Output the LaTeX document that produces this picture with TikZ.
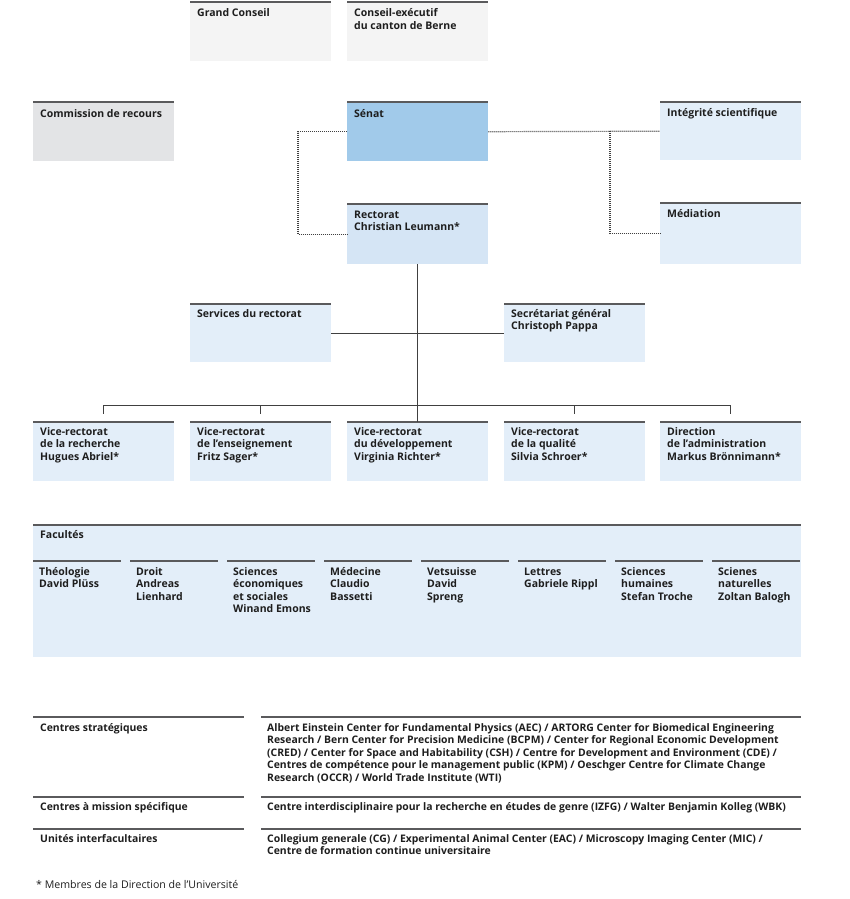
\documentclass[tikz,border=0pt]{standalone}
\usepackage{fontspec}
\setmainfont{Open Sans}
\usetikzlibrary{calc}
\definecolor{txtc}{HTML}{1E1E1E}
\definecolor{toplc}{HTML}{5A5A5C}
\definecolor{connc}{HTML}{404040}
\definecolor{grayA}{HTML}{F4F4F4}
\definecolor{grayB}{HTML}{E3E4E6}
\definecolor{senatc}{HTML}{A1CAEA}
\definecolor{rectc}{HTML}{D5E5F5}
\definecolor{lb}{HTML}{E3EEF9}
\newcommand\ml[1]{\begin{tabular}[t]{@{}l@{}}#1\end{tabular}}
\tikzset{
  box/.style={rectangle, draw=none, inner sep=0, anchor=north west,
    minimum width=141pt, minimum height=59pt, fill=#1},
  box/.default=lb,
  topl/.style={draw=toplc, line width=1.6pt},
  conn/.style={draw=connc, line width=0.9pt},
  dotl/.style={draw=connc, line width=1.2pt, dash pattern=on 1pt off 1pt},
  txt/.style={anchor=base west, inner sep=0, text=txtc,
    font=\fontsize{10.5}{12.5}\selectfont\bfseries},
  smalltxt/.style={anchor=base west, inner sep=0, text=txtc,
    font=\fontsize{10.4}{12.5}\selectfont\bfseries},
  foot/.style={anchor=base west, inner sep=0, text=txtc,
    font=\fontsize{10.6}{12}\selectfont}
}
\begin{document}
\begin{tikzpicture}[x=1pt,y=-1pt]
\useasboundingbox[fill=white] (0,0) rectangle (850,899);
% boxes
\node[box=grayA] (gc) at (190,2) {};
\node[box=grayA] (ce) at (347,2) {};
\node[box=grayB] (cr) at (33,102) {};
\node[box=senatc] (senat) at (347,102) {};
\node[box, minimum height=58pt] (integ) at (660,102) {};
\node[box=rectc, minimum height=60pt] (rect) at (347,204) {};
\node[box, minimum height=61pt] (med) at (660,203) {};
\node[box, minimum height=58pt] (serv) at (190,304) {};
\node[box, minimum height=58pt] (secr) at (504,304) {};
\node[box] (vr1) at (33,422) {};
\node[box] (vr2) at (190,422) {};
\node[box] (vr3) at (347,422) {};
\node[box] (vr4) at (504,422) {};
\node[box] (vr5) at (660,422) {};
\node[box, minimum width=768pt, minimum height=132pt] (fac) at (33,525) {};
\foreach \n in {gc,ce,cr,senat,integ,rect,med,serv,secr,vr1,vr2,vr3,vr4,vr5,fac}
  \draw[topl] (\n.north west) -- (\n.north east);
% box texts
\node[txt] (gc-t) at ([shift={(7,15)}]gc.north west) {Grand Conseil};
\node[txt] (ce-t) at ([shift={(7,15)}]ce.north west) {\ml{Conseil-exécutif\\du canton de Berne}};
\node[txt] (cr-t) at ([shift={(7,15)}]cr.north west) {Commission de recours};
\node[txt] (senat-t) at ([shift={(7,15)}]senat.north west) {Sénat};
\node[txt] (integ-t) at ([shift={(7,14)}]integ.north west) {Intégrité scientifique};
\node[txt] (rect-t) at ([shift={(7,14)}]rect.north west) {\ml{Rectorat\\Christian Leumann*}};
\node[txt] (med-t) at ([shift={(7,14)}]med.north west) {Médiation};
\node[txt] (serv-t) at ([shift={(7,13)}]serv.north west) {Services du rectorat};
\node[txt] (secr-t) at ([shift={(7,13)}]secr.north west) {\ml{Secrétariat général\\Christoph Pappa}};
\node[txt] (vr1-t) at ([shift={(7,13)}]vr1.north west) {\ml{Vice-rectorat\\de la recherche\\Hugues Abriel*}};
\node[txt] (vr2-t) at ([shift={(7,13)}]vr2.north west) {\ml{Vice-rectorat\\de l’enseignement\\Fritz Sager*}};
\node[txt] (vr3-t) at ([shift={(7,13)}]vr3.north west) {\ml{Vice-rectorat\\du développement\\Virginia Richter*}};
\node[txt] (vr4-t) at ([shift={(7,13)}]vr4.north west) {\ml{Vice-rectorat\\de la qualité\\Silvia Schroer*}};
\node[txt] (vr5-t) at ([shift={(7,13)}]vr5.north west) {\ml{Direction\\de l’administration\\Markus Brönnimann*}};
\node[txt] (fac-t) at ([shift={(7,13)}]fac.north west) {Facultés};
% faculty columns
\foreach \x/\nm/\tx in {
  33/f1/{Théologie\\David Plüss},
  130/f2/{Droit\\Andreas\\Lienhard},
  227/f3/{Sciences\\économiques\\et sociales\\Winand Emons},
  324/f4/{Médecine\\Claudio\\Bassetti},
  421/f5/{Vetsuisse\\David\\Spreng},
  518/f6/{Lettres\\Gabriele Rippl},
  615/f7/{Sciences\\humaines\\Stefan Troche},
  712/f8/{Scienes\\naturelles\\Zoltan Balogh}} {
  \draw[topl] (\x,561) -- ++(88,0);
  \node[txt] (\nm) at (\x+6,575) {\ml{\tx}};
}
% connectors
\draw[dotl] (senat.west) -- ++(-49,0) |- (rect.west);
\draw[dotl] (senat.east) -- (integ.west);
\path (senat.east) -- (integ.west) coordinate[pos=0.709] (rj);
\draw[dotl] (rj) |- (med.west);
\draw[conn] (rect.south) -- (vr3.north);
\draw[conn] (serv.east) -- (secr.west);
\draw[conn] ($(vr1.north)+(0,-17)$) -- ($(vr5.north)+(0,-17)$);
\foreach \n in {vr1,vr2,vr4,vr5}
  \draw[conn] ($(\n.north)+(0,-17)$) -- ($(\n.north)+(0,-8)$);
% bottom section
\foreach \y in {717,797,829} {
  \draw[topl] (33,\y) -- (244,\y);
  \draw[topl] (261,\y) -- (801,\y);
}
\node[smalltxt] (cs-l) at (40,731) {Centres stratégiques};
\node[smalltxt] (cs-r) at (267,731) {\ml{Albert Einstein Center for Fundamental Physics (AEC) / ARTORG Center for Biomedical Engineering\\Research /\ Bern Center for Precision Medicine (BCPM) / Center for Regional Economic Development\\(CRED) / Center for Space and Habitability (CSH) / Centre for Development and Environment (CDE) /\\Centres de compétence pour le management public (KPM) / Oeschger Centre for Climate Change\\Research (OCCR) / World Trade Institute (WTI)}};
\node[smalltxt] (cm-l) at (40,810) {Centres à mission spécifique};
\node[smalltxt] (cm-r) at (267,810) {Centre interdisciplinaire pour la recherche en études de genre (IZFG) / Walter Benjamin Kolleg (WBK)};
\node[smalltxt] (ui-l) at (40,842) {Unités interfacultaires};
\node[smalltxt] (ui-r) at (267,842) {\ml{Collegium generale (CG) / Experimental Animal Center (EAC) / Microscopy Imaging Center (MIC) /\\Centre de formation continue universitaire}};
\node[foot] (fn) at (36,888) {* Membres de la Direction de l’Université};
\end{tikzpicture}
\end{document}
